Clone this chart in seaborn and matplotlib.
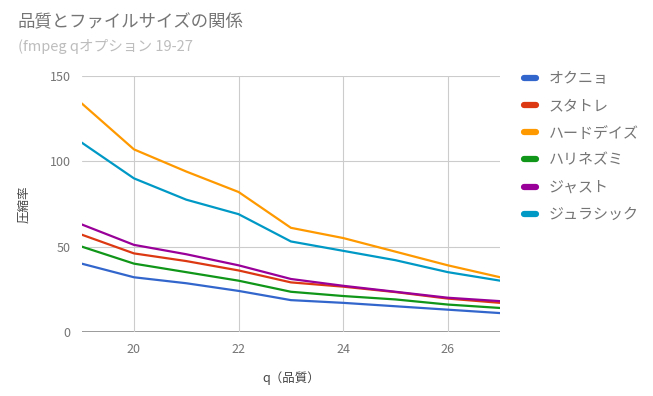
import pandas as pd
import seaborn as sns
import matplotlib.pyplot as plt
from matplotlib.lines import Line2D

# q values and compression ratio per clip
q = [19, 20, 21, 22, 23, 24, 25, 26, 27]
okuniyo = [40, 32, 28.5, 24, 18.6, 17, 15, 13, 11]
sutatore = [57, 46, 41.5, 36, 29, 26.5, 23.3, 19.5, 17]
harddays = [134, 107, 94, 82, 61, 55, 47, 39, 32]
harinezumi = [50, 40, 35, 30, 23.5, 21, 19, 16, 14]
just = [63, 51, 45.5, 39, 31, 27, 23.5, 20, 18]
jurassic = [111, 90, 77.5, 69, 53, 47.5, 42, 35, 30]

series_names = ["オクニョ", "スタトレ", "ハードデイズ", "ハリネズミ", "ジャスト", "ジュラシック"]
colors = ["#3366cc", "#dc3912", "#ff9900", "#109618", "#990099", "#0099c6"]

df = pd.DataFrame({
    "q": q * 6,
    "ratio": okuniyo + sutatore + harddays + harinezumi + just + jurassic,
    "name": [n for n in series_names for _ in q],
})

sns.set_style("white")
plt.rcParams["font.family"] = ["Noto Sans CJK JP", "DejaVu Sans"]

fig = plt.figure(figsize=(6.53, 3.96), dpi=100)
ax = fig.add_axes([0.125, 0.162, 0.641, 0.646])

sns.lineplot(data=df, x="q", y="ratio", hue="name", hue_order=series_names,
             palette=colors, linewidth=1.6, legend=False, ax=ax)

ax.set_xlim(19, 27)
ax.set_ylim(0, 150)
ax.set_xticks([20, 22, 24, 26])
ax.set_yticks([0, 50, 100, 150])
ax.grid(True, color="#cccccc", linewidth=0.8)
ax.axhline(0, color="#999999", linewidth=1.4, zorder=0)
for s in ax.spines.values():
    s.set_visible(False)
ax.tick_params(axis="both", length=0, labelsize=9, colors="#757575", pad=8)
ax.set_xlabel("q（品質）", fontsize=9, color="#444444", labelpad=11)
ax.set_ylabel("圧縮率", fontsize=9, color="#444444", labelpad=14)

fig.text(0.027, 0.93, "品質とファイルサイズの関係", fontsize=12.5, color="#757575")
fig.text(0.027, 0.87, "(fmpeg qオプション 19-27", fontsize=10.5, color="#bdbdbd")

handles = [Line2D([0], [0], color=c, linewidth=4.5, solid_capstyle="round")
           for c in colors]
leg = ax.legend(handles, series_names, loc="upper left", bbox_to_anchor=(1.024, 1.068),
                frameon=False, fontsize=10.8, handlelength=0.8, handletextpad=0.85,
                labelspacing=0.88, labelcolor="#757575")

fig.savefig("out.png", dpi=100)
